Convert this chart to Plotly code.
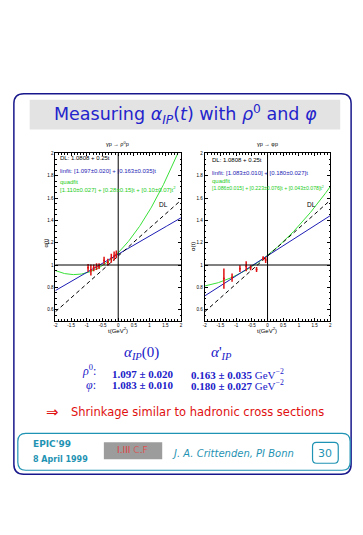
import plotly.graph_objects as go
import numpy as np

W, H = 363, 535
def px(x): return x / W
def py(y): return 1 - y / H

# ---------------- data ----------------
t_rho = [-0.96, -0.87, -0.78, -0.69, -0.61, -0.45, -0.33, -0.22, -0.13, -0.06]
a_rho = [0.975, 0.955, 0.975, 0.985, 0.99, 1.04, 1.025, 1.06, 1.08, 1.095]
e_rho = [0.035, 0.05, 0.03, 0.03, 0.025, 0.035, 0.03, 0.04, 0.04, 0.035]

t_phi = [-1.39, -1.13, -0.88, -0.68, -0.54, -0.35, -0.14, -0.06]
a_phi = [0.878, 0.887, 0.967, 0.988, 0.976, 0.96, 1.06, 1.045]
e_phi = [0.09, 0.037, 0.03, 0.045, 0.022, 0.022, 0.018, 0.027]

dl_par = [1.0808, 0.25]
lin_rho = [1.097, 0.163]
quad_rho = [1.110, 0.28, 0.10]
lin_phi = [1.083, 0.180]
quad_phi = [1.086, 0.223, 0.043]

x_ticks = [-2, -1.5, -1, -0.5, 0, 0.5, 1, 1.5, 2]
x_ticktext = ["-2", "-1.5", "-1", "-0.5", "0", "0.5", "1", "1.5", "2"]
y_ticks = [0.6, 0.8, 1.0, 1.2, 1.4, 1.6, 1.8, 2.0]
y_ticktext = ["0.6", "0.8", "1", "1.2", "1.4", "1.6", "1.8", "2"]

t_grid = np.linspace(-2, 2, 201)

BLUE = "#1c1cb4"
GREEN = "#38e038"
GTEXT = "#22cc22"
RED = "#e01010"
NAVY = "#18188c"
TEAL = "#1f93b3"
TBLUE = "#2020c8"

fig = go.Figure()

def add_panel(xa, ya, t, a, e, lin, quad):
    fig.add_trace(go.Scatter(x=t_grid, y=quad[0] + quad[1]*t_grid + quad[2]*t_grid**2,
                             mode="lines", line=dict(color=GREEN, width=1),
                             xaxis=xa, yaxis=ya, showlegend=False, hoverinfo="skip"))
    fig.add_trace(go.Scatter(x=t_grid, y=lin[0] + lin[1]*t_grid,
                             mode="lines", line=dict(color=BLUE, width=1),
                             xaxis=xa, yaxis=ya, showlegend=False, hoverinfo="skip"))
    fig.add_trace(go.Scatter(x=t_grid, y=dl_par[0] + dl_par[1]*t_grid,
                             mode="lines", line=dict(color="black", width=1, dash="4px,3px"),
                             xaxis=xa, yaxis=ya, showlegend=False, hoverinfo="skip"))
    fig.add_trace(go.Scatter(x=t, y=a, mode="markers",
                             marker=dict(color=RED, size=2),
                             error_y=dict(type="data", array=e, color=RED, thickness=1.5, width=0),
                             xaxis=xa, yaxis=ya, showlegend=False, hoverinfo="skip"))

add_panel("x", "y", t_rho, a_rho, e_rho, lin_rho, quad_rho)
add_panel("x2", "y2", t_phi, a_phi, e_phi, lin_phi, quad_phi)

ax_common = dict(showline=True, linecolor="black", linewidth=1, mirror="allticks",
                 ticks="inside", ticklen=3, tickwidth=0.8, tickcolor="black",
                 showgrid=False, zeroline=False,
                 tickfont=dict(size=4.5, family="Liberation Sans", color="black"))

xa = dict(ax_common, range=[-2, 2], tickvals=x_ticks, ticktext=x_ticktext,
          minor=dict(ticks="inside", ticklen=1.5, tickcolor="black", dtick=0.1))
ya = dict(ax_common, range=[0.5, 2.0], tickvals=y_ticks, ticktext=y_ticktext,
          minor=dict(ticks="inside", ticklen=1.5, tickcolor="black", dtick=0.05))

ydom = [py(320), py(152)]
fig.update_layout(
    width=W, height=H, margin=dict(l=0, r=0, t=0, b=0),
    paper_bgcolor="white", plot_bgcolor="white",
    xaxis=dict(xa, domain=[px(54), px(181)], anchor="y"),
    yaxis=dict(ya, domain=ydom, anchor="x"),
    xaxis2=dict(xa, domain=[px(205), px(332)], anchor="y2"),
    yaxis2=dict(ya, domain=ydom, anchor="x2"),
)

shapes = []
for xr, yr in (("x", "y"), ("x2", "y2")):
    shapes.append(dict(type="line", xref=xr, yref=yr + " domain", x0=0, x1=0, y0=0, y1=1,
                       line=dict(color="black", width=1)))
    shapes.append(dict(type="line", xref=xr + " domain", yref=yr, x0=0, x1=1, y0=1, y1=1,
                       line=dict(color="black", width=1)))

def rrect(x0, y0, x1, y1, r):
    def P(x, y): return f"{px(x):.5f},{py(y):.5f}"
    return (f"M{P(x0+r, y0)} L{P(x1-r, y0)} Q{P(x1, y0)} {P(x1, y0+r)} "
            f"L{P(x1, y1-r)} Q{P(x1, y1)} {P(x1-r, y1)} "
            f"L{P(x0+r, y1)} Q{P(x0, y1)} {P(x0, y1-r)} "
            f"L{P(x0, y0+r)} Q{P(x0, y0)} {P(x0+r, y0)} Z")

shapes.append(dict(type="path", xref="paper", yref="paper", path=rrect(12, 92, 353, 474, 10),
                   line=dict(color=NAVY, width=1.5), layer="below"))
shapes.append(dict(type="rect", xref="paper", yref="paper", x0=px(28), x1=px(342), y0=py(128), y1=py(98),
                   fillcolor="#e3e3e3", line=dict(width=0), layer="below"))
shapes.append(dict(type="path", xref="paper", yref="paper", path=rrect(16, 433, 352, 470, 8),
                   line=dict(color=TEAL, width=1.2), layer="below"))
shapes.append(dict(type="path", xref="paper", yref="paper", path=rrect(314, 442, 340, 463, 4),
                   line=dict(color=TEAL, width=1.2), layer="below"))
shapes.append(dict(type="rect", xref="paper", yref="paper", x0=px(103), x1=px(162), y0=py(459), y1=py(442),
                   fillcolor="#9c9c9c", line=dict(width=0), layer="below"))
fig.update_layout(shapes=shapes)

ann = []
def A(x, y, text, size, color="black", family="Liberation Sans", xanchor="center", **kw):
    ann.append(dict(x=px(x), y=py(y), xref="paper", yref="paper", text=text, showarrow=False,
                    xanchor=xanchor, yanchor="middle", font=dict(size=size, color=color, family=family), **kw))

# title
A(186, 113, "Measuring <i>α</i><sub><i>IP</i></sub>(<i>t</i>) with <i>ρ</i><sup>0</sup> and <i>φ</i>",
  17.5, "#2424cc", "DejaVu Sans")

# panel titles & axis titles
A(117, 143, "γp → ρ<sup>0</sup>p", 5.5)
A(268, 143, "γp → φp", 5.5)
A(117, 329, "t(GeV<sup>2</sup>)", 6)
A(268, 329, "t(GeV<sup>2</sup>)", 6)
A(45, 242, "α(t)", 6, textangle=-90)
A(193, 245, "α(t)", 6, textangle=-90)

# in-panel legends
LS = 6
A(57, 157, "DL: 1.0808 + 0.25t", LS, "black", xanchor="left")
A(57, 170, "linfit: [1.097±0.020] + [0.163±0.035]t", LS, BLUE, xanchor="left")
A(57, 181, "quadfit", LS, GTEXT, xanchor="left")
A(57, 188, "[1.110±0.027] + [0.28±0.15]t + [0.10±0.07]t<sup>2</sup>", LS, GTEXT, xanchor="left")
A(210, 159, "DL: 1.0808 + 0.25t", LS, "black", xanchor="left")
A(210, 172, "linfit: [1.083±0.010] + [0.180±0.027]t", LS, BLUE, xanchor="left")
A(210, 180, "quadfit", LS, GTEXT, xanchor="left")
A(210, 187, "[1.086±0.015] + [0.223±0.076]t + [0.043±0.078]t<sup>2</sup>", 5.2, GTEXT, xanchor="left")
A(163, 203, "DL", 6.5)
A(313, 203, "DL", 6.5)

# results table
SERIF = "Liberation Serif"
A(141, 352, "<i>α</i><sub><i>IP</i></sub>(0)", 15, TBLUE, SERIF)
A(222, 352, "<i>α</i>'<sub><i>IP</i></sub>", 15, TBLUE, SERIF)
A(97, 370, "<i>ρ</i><sup>0</sup>:", 12, TBLUE, SERIF, xanchor="right")
A(97, 384, "<i>φ</i>:", 12, TBLUE, SERIF, xanchor="right")
A(109, 373, "<b>1.097 ± 0.020</b>", 11, TBLUE, SERIF, xanchor="left")
A(109, 384, "<b>1.083 ± 0.010</b>", 11, TBLUE, SERIF, xanchor="left")
A(189, 373, "<b>0.163 ± 0.035</b> GeV<sup>−2</sup>", 11, TBLUE, SERIF, xanchor="left")
A(189, 384, "<b>0.180 ± 0.027</b> GeV<sup>−2</sup>", 11, TBLUE, SERIF, xanchor="left")

A(42, 412, "⇒", 15, RED, "DejaVu Sans", xanchor="left")
A(68, 412, "Shrinkage similar to hadronic cross sections", 11.5, RED, "DejaVu Sans", xanchor="left")

# footer
A(29, 444, "<b>EPIC'99</b>", 9, TEAL, "DejaVu Sans", xanchor="left")
A(29, 459, "<b>8 April 1999</b>", 8, TEAL, "DejaVu Sans", xanchor="left")
A(132, 450, "<span style='color:#e04040'>I.III</span> <span style='color:#d06060'>C</span>.<span style='color:#e05050'>F</span>",
  9, "#d04040", "DejaVu Sans")
A(170, 453, "<i>J. A. Crittenden, PI Bonn</i>", 10, TEAL, "DejaVu Sans", xanchor="left")
A(327, 453, "30", 11, TEAL, "DejaVu Sans")

fig.update_layout(annotations=ann)
fig.write_html("out.html")
